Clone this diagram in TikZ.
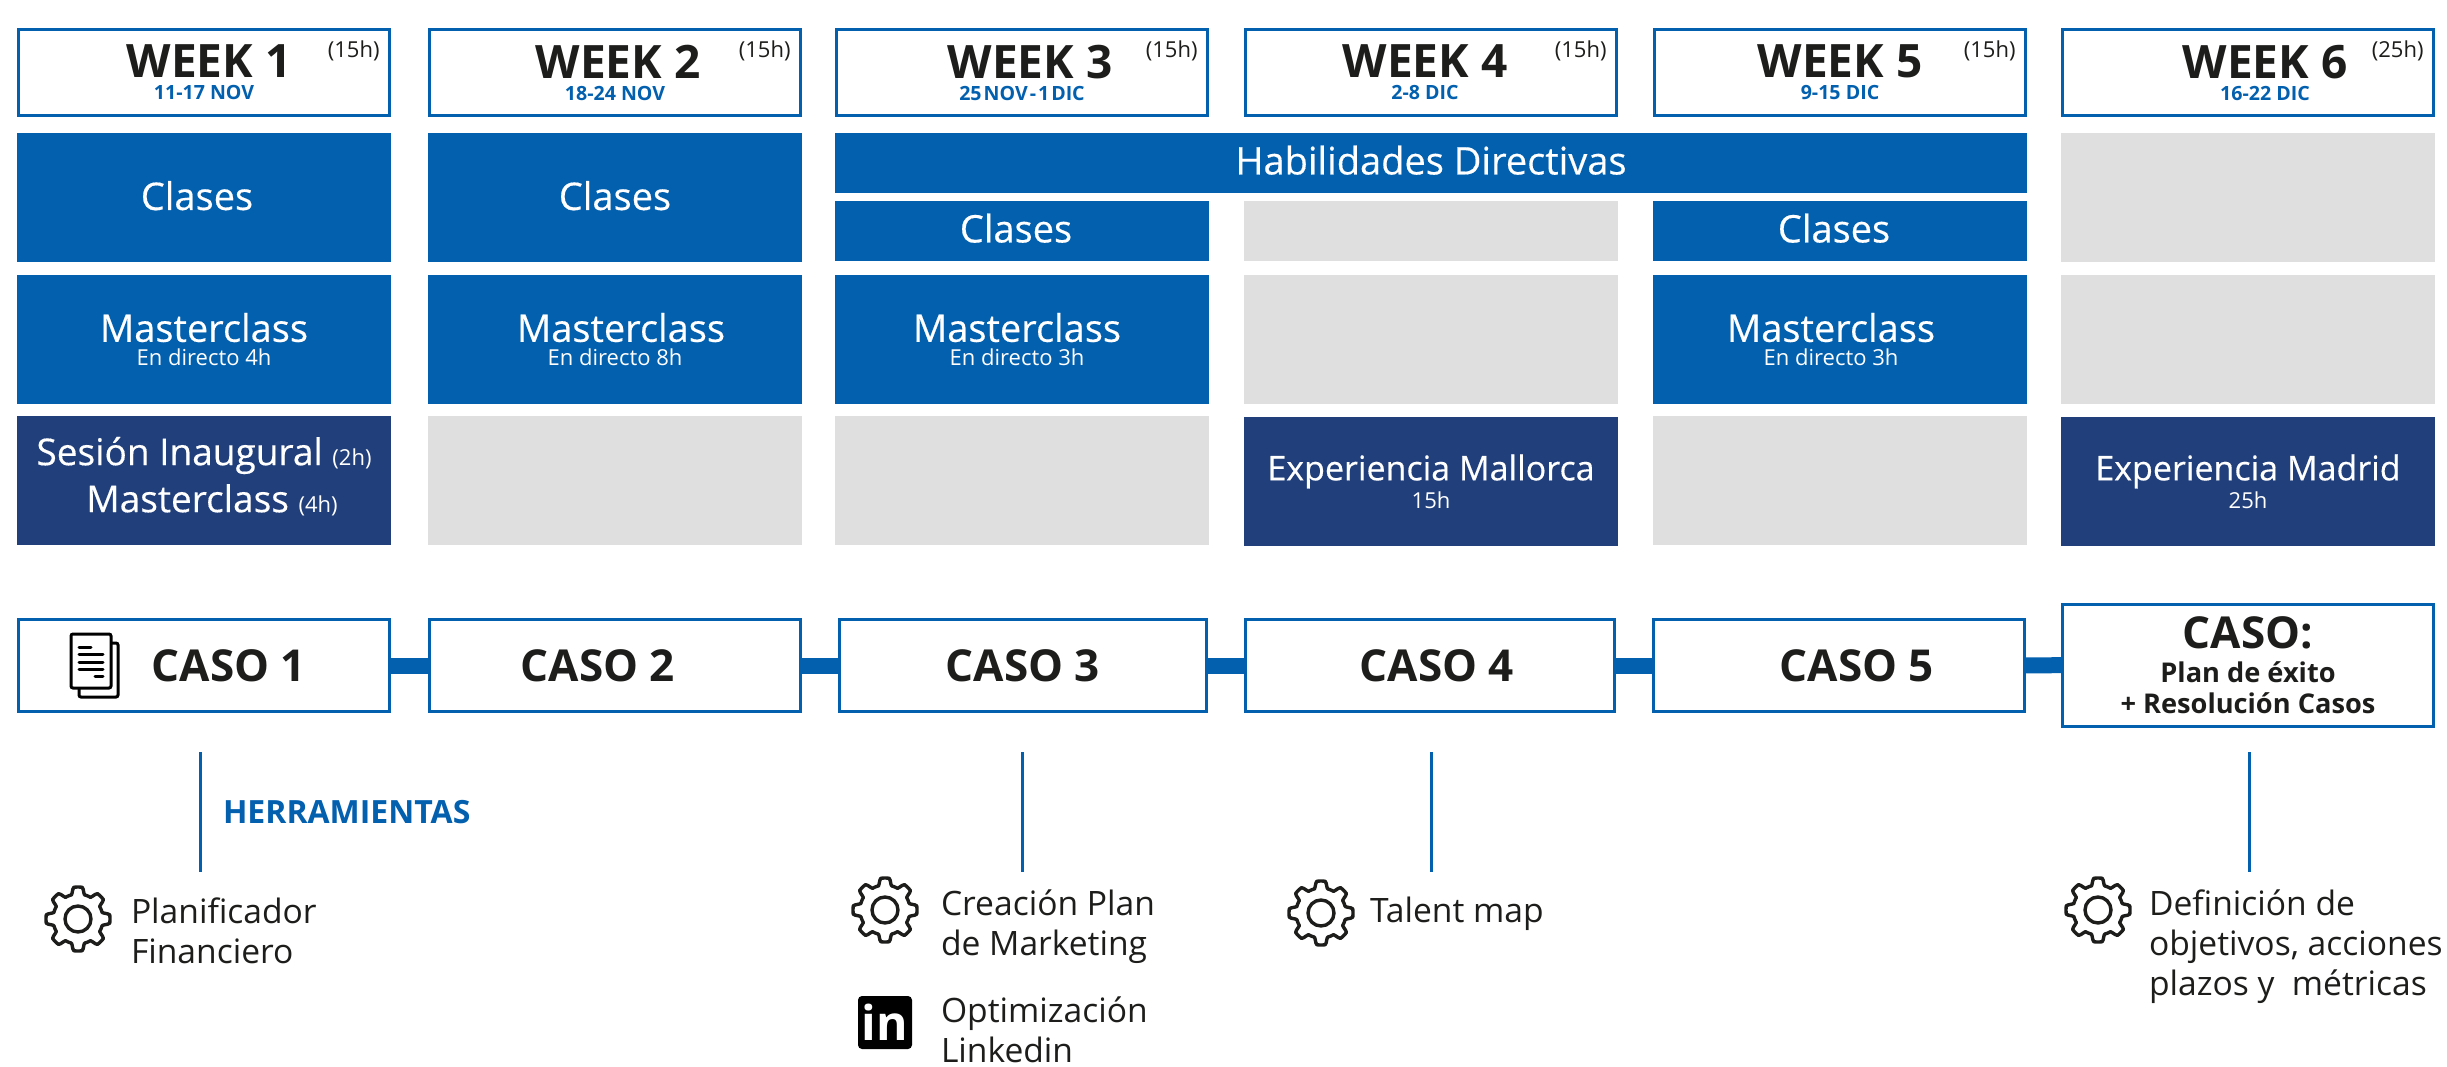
\documentclass[tikz,border=0pt]{standalone}
\usepackage{fontspec}
\setmainfont{Open Sans}
\newfontfamily\medio[FakeBold=0.35]{Open Sans}
\usetikzlibrary{positioning}
\definecolor{azul}{RGB}{2,96,175}
\definecolor{marino}{RGB}{33,63,123}
\definecolor{vacio}{RGB}{223,223,223}
\definecolor{tinta}{RGB}{29,29,27}
\newcommand{\chico}[1]{{\normalfont\fontsize{11}{13}\selectfont #1}}
\newcommand{\fecha}[1]{{\bfseries\fontsize{9.8}{12}\selectfont\color{azul}#1}}
\newcommand{\plan}[1]{{\fontsize{13.6}{16}\selectfont #1}}
\tikzset{
  gear/.pic={
    \draw[tinta,line width=1.7pt,line join=round] plot[domain=0:360,samples=145,smooth]
      ({(28.5+3.5*max(min(2.5*cos(8*\x),1),-1))*cos(\x)},{(28.5+3.5*max(min(2.5*cos(8*\x),1),-1))*sin(\x)}) -- cycle;
    \draw[tinta,line width=1.7pt] (0,0) circle (13);
  }
}
\begin{document}
\begin{tikzpicture}
    [x=0.5pt,y=-0.5pt,outer sep=0pt,inner sep=0pt,
    % STYLES
    % The week style is used for the boxes at the top
    week/.style={rectangle, draw=azul, line width=1.5pt, fill=white, anchor=north west, minimum width=185.5pt, minimum height=43pt, align=center, text=tinta, font=\bfseries\fontsize{23}{24}\selectfont},
    hours/.style={anchor=north east, text=tinta, font=\fontsize{11}{13}\selectfont},
    % The block styles are used for the filled rows
    block/.style={rectangle, fill=azul, text=white, minimum width=187pt, minimum height=64.5pt, align=center, font=\medio\fontsize{19}{14}\selectfont},
    thinblock/.style={block, anchor=north west, minimum height=30pt, text depth=3pt},
    viaje/.style={block, fill=marino, font=\medio\fontsize{17}{14}\selectfont},
    empty/.style={block, fill=vacio},
    % The caso style is used for the second row of boxes
    caso/.style={rectangle, draw=azul, line width=1.5pt, fill=white, anchor=north west, minimum width=185.5pt, minimum height=46pt, align=center, text=tinta, font=\bfseries\fontsize{22}{24}\selectfont},
    link/.style={azul, line width=8pt},
    tool/.style={azul, line width=1.5pt},
    herr/.style={anchor=base west, align=left, text=tinta, font=\fontsize{16.8}{20}\selectfont}]

    % Draw weeks
    \node [week] (week1) at (18.5,29.5) {\hspace*{5pt}WEEK 1\\[-13pt]\fecha{11-17 NOV}};
    \node [week] (week2) at (429.5,29.5) {\hspace*{3pt}WEEK 2\\[-13pt]\fecha{18-24 NOV}};
    \node [week] (week3) at (836.5,29.5) {\hspace*{8pt}WEEK 3\\[-13pt]\fecha{25\hspace{1pt}NOV\hspace{1pt}-\hspace{1pt}1\hspace{1pt}DIC}};
    \node [week] (week4) at (1245.5,29.5) {WEEK 4\hspace*{6pt}\\[-13pt]\fecha{2-8 DIC}\hspace*{6pt}};
    \node [week] (week5) at (1654.5,29.5) {WEEK 5\\[-13pt]\fecha{9-15 DIC}};
    \node [week] (week6) at (2062.5,29.5) {\hspace*{17pt}WEEK 6\\[-13pt]\hspace*{17pt}\fecha{16-22 DIC}};
    \node [hours, below left=5.5pt and 5pt of week1.north east] (hours1) {(15h)};
    \node [hours, below left=5.5pt and 5pt of week2.north east] (hours2) {(15h)};
    \node [hours, below left=5.5pt and 5pt of week3.north east] (hours3) {(15h)};
    \node [hours, below left=5.5pt and 5pt of week4.north east] (hours4) {(15h)};
    \node [hours, below left=5.5pt and 5pt of week5.north east] (hours5) {(15h)};
    \node [hours, below left=5.5pt and 5pt of week6.north east] (hours6) {(25h)};

    % Draw first row
    \node [block, below=8.75pt of week1, text depth=2pt] (clases1) {Clases\hspace*{7pt}};
    \node [block, below=8.75pt of week2, text depth=2pt] (clases2) {Clases};
    \node [thinblock] (habilidades) at (835,133) [minimum width=596pt] {Habilidades Directivas};
    \node [thinblock] (clases3) at (835,201) {Clases\hspace*{6pt}};
    \node [thinblock, fill=vacio] (vacio4a) at (1244,201) {};
    \node [thinblock] (clases5) at (1653,201) {Clases\hspace*{6pt}};
    \node [empty, below=8.75pt of week6] (vacio6a) {};

    % Draw second row
    \node [block, below=6.5pt of clases1] (master1) {Masterclass\\[-2pt]\chico{En directo 4h}};
    \node [block, below=6.5pt of clases2] (master2) {\hspace*{6pt}Masterclass\\[-2pt]\chico{En directo 8h}};
    \node [block, below=7pt of clases3] (master3) {Masterclass\hspace*{5pt}\\[-2pt]\chico{En directo 3h}\hspace*{5pt}};
    \node [empty, below=7pt of vacio4a] (vacio4b) {};
    \node [block, below=7pt of clases5] (master5) {Masterclass\hspace*{9pt}\\[-2pt]\chico{En directo 3h}\hspace*{9pt}};
    \node [empty, below=6.5pt of vacio6a] (vacio6b) {};

    % Draw third row
    \node [viaje, below=6pt of master1, font=\medio\fontsize{18.5}{23.5}\selectfont, text depth=6pt] (inaugural) {Sesión Inaugural \chico{(2h)}\\\hspace*{8pt}Masterclass \chico{(4h)}};
    \node [empty, below=6pt of master2] (vacio2) {};
    \node [empty, below=6pt of master3] (vacio3) {};
    \node [viaje, below=6.5pt of vacio4b] (mallorca) {Experiencia Mallorca\\[0pt]\chico{15h}};
    \node [empty, below=6pt of master5] (vacio5) {};
    \node [viaje, below=6.5pt of vacio6b] (madrid) {Experiencia Madrid\\[0pt]\chico{25h}};

    % Draw casos
    \node [caso] (caso1) at (18.5,619.5) {\hspace*{25pt}CASO 1};
    \node [caso] (caso2) at (429.5,619.5) {CASO 2\hspace*{17pt}};
    \node [caso, minimum width=183.5pt] (caso3) at (839.5,619.5) {CASO 3};
    \node [caso, minimum width=184.5pt] (caso4) at (1245.5,619.5) {\hspace*{7pt}CASO 4};
    \node [caso] (caso5) at (1653.5,619.5) {\hspace*{18pt}CASO 5};
    \node [caso, minimum height=61pt] (caso6) at (2062.5,604) {CASO:\\[-7pt]\plan{Plan de éxito}\\[-8.5pt]\plan{+ Resolución Casos}};

    % Draw the links between casos
    \path[link]
    (caso1) edge (caso2)
    (caso2) edge (caso3)
    (caso3) edge (caso4)
    (caso4) edge (caso5)
    (caso5) edge (caso6);

    % Draw the tools
    \coordinate (top1) at (200,752);
    \coordinate (end1) at (200,872);
    \coordinate (top3) at (1022,752);
    \coordinate (end3) at (1022,872);
    \coordinate (top4) at (1431,752);
    \coordinate (end4) at (1431,872);
    \coordinate (top6) at (2249,752);
    \coordinate (end6) at (2249,872);
    \path[tool]
    (top1) edge (end1)
    (top3) edge (end3)
    (top4) edge (end4)
    (top6) edge (end6);

    \node [herr, text=azul, font=\bfseries\fontsize{16}{18}\selectfont] (herramientas) at (223,823) {HERRAMIENTAS};
    \pic (gear1) at (78,919) {gear};
    \pic (gear3) at (885,910) {gear};
    \pic (gear4) at (1321,913) {gear};
    \pic (gear6) at (2098,910) {gear};
    \node [herr] (planificador) at (131,963) {Planificador\\Financiero};
    \node [herr] (creacion) at (941,955) {Creación Plan\\de Marketing};
    \node [herr] (talent) at (1370,922) {Talent map};
    \node [herr] (definicion) at (2149,995) {Definición de\\objetivos, acciones\\plazos y\ \ métricas};
    \node [herr] (optimizacion) at (941,1062) {Optimización\\Linkedin};

    % Draw the linkedin square
    \node [rectangle, rounded corners=2pt, fill=black, text=white, minimum width=27pt, minimum height=26.5pt, font=\bfseries\fontsize{24}{24}\selectfont] (linkedin) at (885,1022.5) {in};

    % Draw the page icon of caso 1
    \draw[black, line width=1.5pt, rounded corners=1pt] (71,634) rectangle (111,688);
    \draw[black, line width=1.5pt, rounded corners=1pt] (111,643) -- (118,643) -- (118,697) -- (79,697) -- (79,688);
    \draw[black, line width=1.5pt, line cap=round]
    (79,647) -- (91,647)
    (79,654) -- (103,654)
    (79,662) -- (103,662)
    (79,669) -- (103,669)
    (95,676) -- (103,676);

    \useasboundingbox (0,0) rectangle (2447,1066);
\end{tikzpicture}
\end{document}
